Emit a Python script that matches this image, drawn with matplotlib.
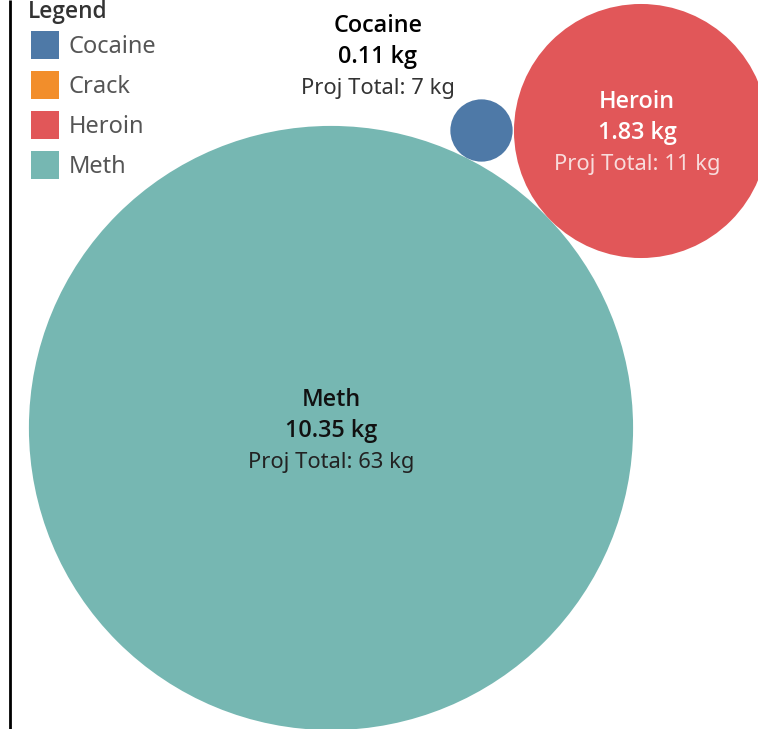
import matplotlib
matplotlib.use("Agg")
import numpy as np
import matplotlib.pyplot as plt
from matplotlib.patches import Circle, Rectangle

# data
legend_items = ["Cocaine", "Crack", "Heroin", "Meth"]
legend_cols = ["#4E79A7", "#F28E2B", "#E15759", "#76B7B2"]

drugs = ["Meth", "Heroin", "Cocaine"]
amount_kg = [10.35, 1.83, 0.11]
proj_total_kg = [63, 11, 7]
bubble_cols = ["#76B7B2", "#E15759", "#4E79A7"]

# layout (pixel coords, y down)
W, H = 758, 729
centers = [(331, 428), (641, 131), (481.5, 130.5)]
px_per_sqrt = 93.9
label_pos = [(331, 431), (637, 133), (378, 57)]
label_cols = [("#111111", "#111111", "#222222"),
              ("white", "white", "#F8DCDC"),
              ("black", "black", "#333333")]

plt.rcParams["font.family"] = ["Noto Sans", "DejaVu Sans"]
BOLD = ["Open Sans", "DejaVu Sans"]
fig = plt.figure(figsize=(W/100, H/100), dpi=100)
ax = fig.add_axes([0, 0, 1, 1])
ax.set_xlim(0, W); ax.set_ylim(H, 0)
ax.set_aspect("equal"); ax.axis("off")

for (cx, cy), v, c in zip(centers, amount_kg, bubble_cols):
    ax.add_patch(Circle((cx, cy), px_per_sqrt*np.sqrt(v), color=c, lw=0))

for nm, v, pt, (lx, ly), (c1, c2, c3) in zip(drugs, amount_kg, proj_total_kg, label_pos, label_cols):
    ax.text(lx, ly-31, nm, ha="center", va="center", fontsize=16.8, family=BOLD, fontweight="semibold", color=c1)
    ax.text(lx, ly, f"{v:.2f} kg", ha="center", va="center", fontsize=16.8, family=BOLD, fontweight="semibold", color=c2)
    ax.text(lx, ly+31, f"Proj Total: {pt} kg", ha="center", va="center", fontsize=15.8, color=c3)

# legend
ax.text(28, 12, "Legend", ha="left", va="center", fontsize=16.3, family=BOLD, fontweight="semibold", color="#333333")
for i, (nm, c) in enumerate(zip(legend_items, legend_cols)):
    y = 45 + i*40
    ax.add_patch(Rectangle((31, y-14), 28, 28, color=c, lw=0))
    ax.text(69, y+1.5, nm, ha="left", va="center", fontsize=17, color="#555555")

ax.plot([10, 10], [0, H], color="black", lw=2, solid_capstyle="butt")

fig.savefig("out.png", dpi=100)
